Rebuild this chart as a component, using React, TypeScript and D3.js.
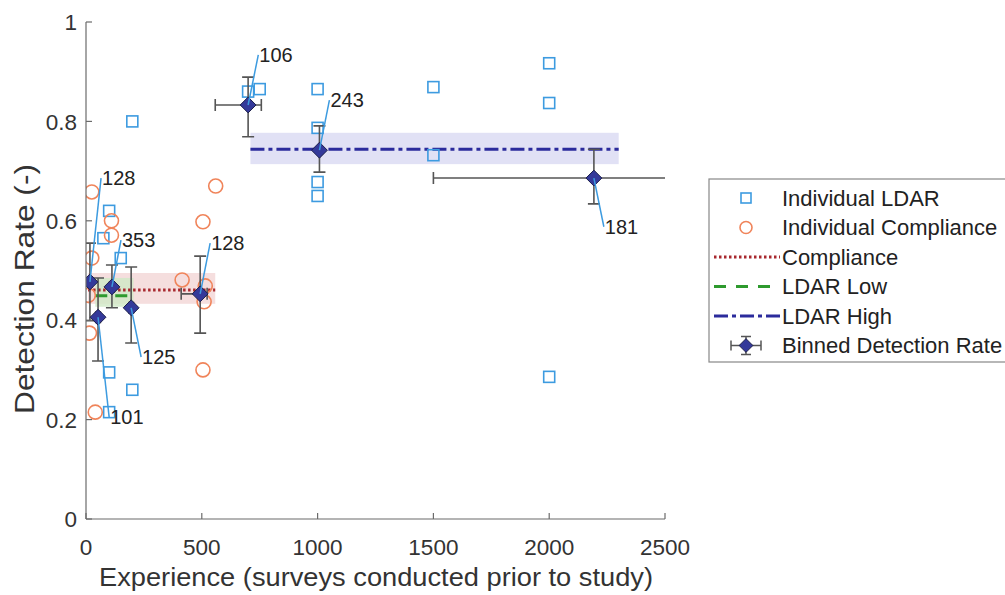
import React, { useEffect, useRef } from "react";
import * as d3 from "d3";

// individual LDAR surveyors
const ldarX = [200, 100, 75, 150, 100, 200, 100, 700, 750, 1000, 1000, 1000, 1000, 1500, 1500, 2000, 2000, 2000];
const ldarY = [0.8, 0.62, 0.565, 0.525, 0.295, 0.26, 0.215, 0.86, 0.865, 0.865, 0.787, 0.678, 0.65, 0.869, 0.732, 0.917, 0.837, 0.286];

// individual compliance surveyors
const compX = [25, 110, 110, 25, 10, 15, 40, 560, 505, 415, 515, 510, 505];
const compY = [0.658, 0.6, 0.571, 0.525, 0.45, 0.374, 0.215, 0.67, 0.598, 0.481, 0.469, 0.437, 0.3];

// binned detection rate
const binX = [17, 52, 112, 195, 493, 700, 1008, 2193];
const binY = [0.477, 0.406, 0.467, 0.425, 0.453, 0.833, 0.742, 0.686];
const binYNeg = [0.078, 0.088, 0.042, 0.071, 0.079, 0.064, 0.044, 0.052];
const binYPos = [0.078, 0.079, 0.044, 0.082, 0.076, 0.056, 0.049, 0.058];
const binXNeg = [10, 10, 10, 10, 82, 142, 0, 693];
const binXPos = [10, 10, 10, 10, 30, 57, 0, 700];

// labels (count per bin) and where their leader lines end
const binLabels = ["128", "101", "353", "125", "128", "106", "243", "181"];
const labelX = [65, 100, 151, 238, 536, 744, 1051, 2236];
const labelY = [0.686, 0.205, 0.561, 0.326, 0.555, 0.934, 0.843, 0.588];

// mean lines with bands
const compliance = { x0: 9, x1: 558, mean: 0.461, lo: 0.433, hi: 0.495 };
const ldarLow = { x0: 40, x1: 205, mean: 0.449, lo: 0.427, hi: 0.485 };
const ldarHigh = { x0: 710, x1: 2300, mean: 0.744, lo: 0.714, hi: 0.777 };

const xTicks = [0, 500, 1000, 1500, 2000, 2500];
const yTicks = [0, 0.2, 0.4, 0.6, 0.8, 1];
const yTickText = ["0", "0.2", "0.4", "0.6", "0.8", "1"];

const legendItems = [
  "Individual LDAR",
  "Individual Compliance",
  "Compliance",
  "LDAR Low",
  "LDAR High",
  "Binned Detection Rate",
];

const font = "'Liberation Sans', Arial, Helvetica, sans-serif";
const blue = "#3d9be0";
const orange = "#f0845a";
const axisColor = "#6b6b6b";

const App = () => {
  const svgRef = useRef<SVGSVGElement>(null);
  const width = 1005;
  const height = 595;

  useEffect(() => {
    const svg = d3.select(svgRef.current);
    svg.selectAll("*").remove();

    const x = d3.scaleLinear().domain([0, 2500]).range([86, 665]);
    const y = d3.scaleLinear().domain([0, 1]).range([519, 22]);

    svg
      .append("defs")
      .append("clipPath")
      .attr("id", "plotclip")
      .append("rect")
      .attr("x", x(0))
      .attr("y", y(1))
      .attr("width", x(2500) - x(0))
      .attr("height", y(0) - y(1));

    const plot = svg.append("g").attr("clip-path", "url(#plotclip)");

    // bands
    const bands = [
      { b: ldarHigh, fill: "#d9d9f2" },
      { b: compliance, fill: "#f2d6d6" },
      { b: ldarLow, fill: "#cfe8c6" },
    ];
    bands.forEach(({ b, fill }) => {
      plot
        .append("rect")
        .attr("x", x(b.x0))
        .attr("width", x(b.x1) - x(b.x0))
        .attr("y", y(b.hi))
        .attr("height", y(b.lo) - y(b.hi))
        .attr("fill", fill)
        .attr("opacity", 0.8);
    });

    const meanLine = (b, color, dash, w) =>
      plot
        .append("line")
        .attr("x1", x(b.x0))
        .attr("x2", x(b.x1))
        .attr("y1", y(b.mean))
        .attr("y2", y(b.mean))
        .attr("stroke", color)
        .attr("stroke-width", w)
        .attr("stroke-dasharray", dash);

    meanLine(compliance, "#a8282e", "2.5,2.5", 3);
    meanLine(ldarLow, "#2e9a2e", "12,8", 3);
    meanLine(ldarHigh, "#2b2b9c", "14,4,4,4", 3);

    // individual points
    plot
      .append("g")
      .selectAll("rect")
      .data(ldarX.map((d, i) => ({ x: d, y: ldarY[i] })))
      .join("rect")
      .attr("x", (d) => x(d.x) - 5.5)
      .attr("y", (d) => y(d.y) - 5.5)
      .attr("width", 11)
      .attr("height", 11)
      .attr("fill", "none")
      .attr("stroke", blue)
      .attr("stroke-width", 1.6);

    plot
      .append("g")
      .selectAll("circle")
      .data(compX.map((d, i) => ({ x: d, y: compY[i] })))
      .join("circle")
      .attr("cx", (d) => x(d.x))
      .attr("cy", (d) => y(d.y))
      .attr("r", 7)
      .attr("fill", "none")
      .attr("stroke", orange)
      .attr("stroke-width", 1.6);

    // error bars
    const bins = binX.map((d, i) => ({
      x: d,
      y: binY[i],
      yl: binY[i] - binYNeg[i],
      yh: binY[i] + binYPos[i],
      xl: d - binXNeg[i],
      xh: d + binXPos[i],
    }));
    const eb = plot.append("g").attr("stroke", "#555").attr("stroke-width", 1.6).attr("fill", "none");
    const cap = 6;
    bins.forEach((d) => {
      const path = d3.path();
      path.moveTo(x(d.x), y(d.yl));
      path.lineTo(x(d.x), y(d.yh));
      path.moveTo(x(d.x) - cap, y(d.yl));
      path.lineTo(x(d.x) + cap, y(d.yl));
      path.moveTo(x(d.x) - cap, y(d.yh));
      path.lineTo(x(d.x) + cap, y(d.yh));
      if (d.xh > d.xl) {
        path.moveTo(x(d.xl), y(d.y));
        path.lineTo(x(d.xh), y(d.y));
        path.moveTo(x(d.xl), y(d.y) - cap);
        path.lineTo(x(d.xl), y(d.y) + cap);
        path.moveTo(x(d.xh), y(d.y) - cap);
        path.lineTo(x(d.xh), y(d.y) + cap);
      }
      eb.append("path").attr("d", path.toString());
    });

    const diamond = d3.symbol().type(d3.symbolDiamond2).size(160);
    plot
      .append("g")
      .selectAll("path")
      .data(bins)
      .join("path")
      .attr("transform", (d) => `translate(${x(d.x)},${y(d.y)})`)
      .attr("d", diamond)
      .attr("fill", "#34399a")
      .attr("stroke", "#1c1f4a")
      .attr("stroke-width", 1);

    // leader lines and labels
    const labs = svg.append("g");
    binLabels.forEach((t, i) => {
      labs
        .append("line")
        .attr("x1", x(binX[i]))
        .attr("y1", y(binY[i]))
        .attr("x2", x(labelX[i]))
        .attr("y2", y(labelY[i]))
        .attr("stroke", blue)
        .attr("stroke-width", 1.5);
      labs
        .append("text")
        .attr("x", x(labelX[i]) + 1)
        .attr("y", y(labelY[i]))
        .attr("dy", "0.36em")
        .attr("font-family", font)
        .attr("font-size", 20)
        .attr("fill", "#222")
        .text(t);
    });

    // axes
    const ax = svg.append("g").attr("stroke", axisColor).attr("stroke-width", 1.2);
    ax.append("line").attr("x1", x(0)).attr("x2", x(0)).attr("y1", y(0)).attr("y2", y(1));
    ax.append("line").attr("x1", x(0)).attr("x2", x(2500)).attr("y1", y(0)).attr("y2", y(0));
    yTicks.forEach((t) => {
      ax.append("line").attr("x1", x(0)).attr("x2", x(0) + 6).attr("y1", y(t)).attr("y2", y(t));
    });
    xTicks.forEach((t) => {
      ax.append("line").attr("x1", x(t)).attr("x2", x(t)).attr("y1", y(0)).attr("y2", y(0) - 6);
    });

    const tl = svg.append("g").attr("font-family", font).attr("font-size", 22.5).attr("fill", "#333");
    yTicks.forEach((t, i) => {
      tl.append("text")
        .attr("x", x(0) - 9)
        .attr("y", y(t))
        .attr("dy", "0.36em")
        .attr("text-anchor", "end")
        .text(yTickText[i]);
    });
    xTicks.forEach((t) => {
      tl.append("text")
        .attr("x", x(t))
        .attr("y", y(0) + 36)
        .attr("text-anchor", "middle")
        .text(String(t));
    });

    svg
      .append("text")
      .attr("transform", `translate(34,${289}) rotate(-90)`)
      .attr("text-anchor", "middle")
      .attr("font-family", font)
      .attr("font-size", 28)
      .attr("textLength", 250)
      .attr("lengthAdjust", "spacingAndGlyphs")
      .attr("fill", "#333")
      .text("Detection Rate (-)");

    svg
      .append("text")
      .attr("x", 376)
      .attr("y", 586)
      .attr("text-anchor", "middle")
      .attr("font-family", font)
      .attr("font-size", 25)
      .attr("textLength", 554)
      .attr("lengthAdjust", "spacingAndGlyphs")
      .attr("fill", "#333")
      .text("Experience (surveys conducted prior to study)");

    // legend
    const lg = svg.append("g");
    lg.append("rect")
      .attr("x", 709)
      .attr("y", 179)
      .attr("width", 320)
      .attr("height", 183)
      .attr("fill", "white")
      .attr("stroke", "#888")
      .attr("stroke-width", 1.2);
    const rowY = (i) => 198 + i * 29.5;
    const iconX = 746;
    lg.append("rect")
      .attr("x", iconX - 5)
      .attr("y", rowY(0) - 5)
      .attr("width", 10)
      .attr("height", 10)
      .attr("fill", "none")
      .attr("stroke", blue)
      .attr("stroke-width", 1.6);
    lg.append("circle")
      .attr("cx", iconX)
      .attr("cy", rowY(1))
      .attr("r", 6)
      .attr("fill", "none")
      .attr("stroke", orange)
      .attr("stroke-width", 1.6);
    const legLine = (i, color, dash) =>
      lg
        .append("line")
        .attr("x1", 714)
        .attr("x2", 780)
        .attr("y1", rowY(i))
        .attr("y2", rowY(i))
        .attr("stroke", color)
        .attr("stroke-width", 3)
        .attr("stroke-dasharray", dash);
    legLine(2, "#a8282e", "2.5,2.5");
    legLine(3, "#2e9a2e", "12,10");
    legLine(4, "#2b2b9c", "14,4,4,4");
    const lp = d3.path();
    lp.moveTo(iconX - 15, rowY(5));
    lp.lineTo(iconX + 15, rowY(5));
    lp.moveTo(iconX - 15, rowY(5) - 5);
    lp.lineTo(iconX - 15, rowY(5) + 5);
    lp.moveTo(iconX + 15, rowY(5) - 5);
    lp.lineTo(iconX + 15, rowY(5) + 5);
    lp.moveTo(iconX, rowY(5) - 9);
    lp.lineTo(iconX, rowY(5) + 9);
    lp.moveTo(iconX - 5, rowY(5) - 9);
    lp.lineTo(iconX + 5, rowY(5) - 9);
    lp.moveTo(iconX - 5, rowY(5) + 9);
    lp.lineTo(iconX + 5, rowY(5) + 9);
    lg.append("path").attr("d", lp.toString()).attr("stroke", "#555").attr("stroke-width", 1.5).attr("fill", "none");
    lg.append("path")
      .attr("transform", `translate(${iconX},${rowY(5)})`)
      .attr("d", d3.symbol().type(d3.symbolDiamond2).size(120))
      .attr("fill", "#34399a")
      .attr("stroke", "#1c1f4a");

    legendItems.forEach((t, i) => {
      lg.append("text")
        .attr("x", 782)
        .attr("y", rowY(i))
        .attr("dy", "0.36em")
        .attr("font-family", font)
        .attr("font-size", 22)
        .attr("fill", "#222")
        .text(t);
    });
  }, []);

  return (
    <svg
      ref={svgRef}
      width={width}
      height={height}
      style={{ position: "absolute", left: 0, top: 0, background: "white" }}
    />
  );
};

export default App;
